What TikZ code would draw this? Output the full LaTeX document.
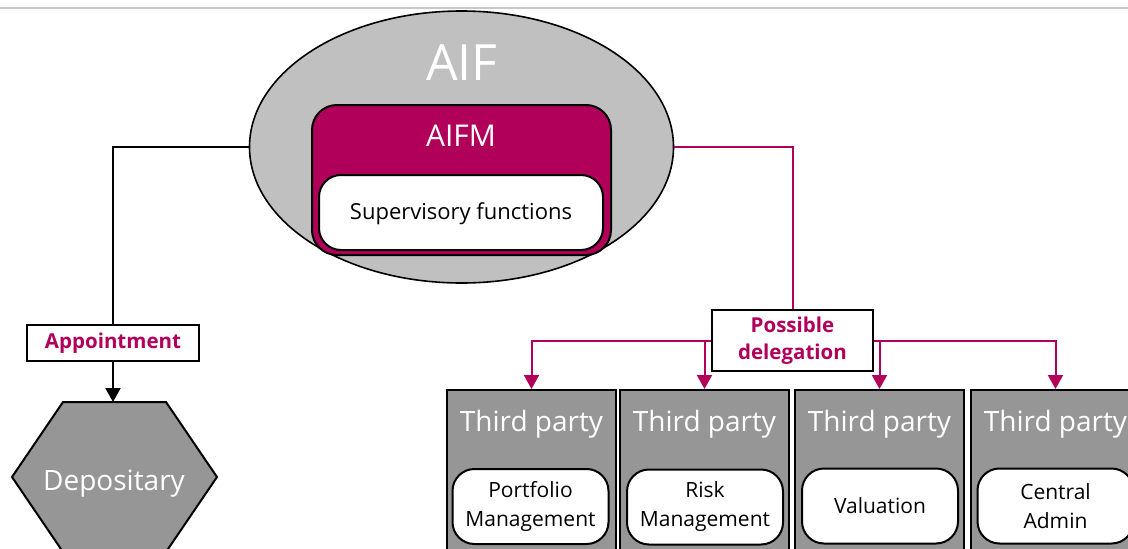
\documentclass[tikz,border=0pt]{standalone}
\usepackage{fontspec}
\setmainfont{Open Sans}
\usetikzlibrary{shapes.geometric,arrows.meta}
\definecolor{mag}{RGB}{176,0,90}
\definecolor{ellgray}{RGB}{192,192,192}
\definecolor{boxgray}{RGB}{150,150,150}
\definecolor{topline}{RGB}{200,200,200}
\begin{document}
\begin{tikzpicture}[x=1pt,y=-1pt,
  conn/.style={line width=2pt, draw=black},
  magconn/.style={line width=2pt, draw=mag},
  tip/.style={-{Triangle[width=15pt,length=14pt]}},
  tpbox/.style={draw=black, line width=2pt, fill=boxgray, minimum width=169pt, minimum height=175pt, inner sep=0pt, anchor=north},
  funcbox/.style={draw=black, line width=2pt, fill=white, rounded corners=22pt, minimum width=156pt, minimum height=75pt, inner sep=0pt, align=center, font=\fontsize{21}{29}\selectfont},
  tplabel/.style={anchor=base, text=white, font=\fontsize{28}{34}\selectfont, inner sep=0pt},
  tagbox/.style={draw=black, line width=2pt, fill=white, inner sep=0pt, text=mag, align=center, font=\bfseries\fontsize{20.5}{27}\selectfont}
]
\useasboundingbox (0,0) rectangle (1128,549);
\clip (0,0) rectangle (1128,549);
\draw[draw=topline, line width=2pt] (0,7.5) -- (1128,7.5);

% AIF ellipse
\node[ellipse, draw=black, line width=1.6pt, fill=ellgray, minimum width=424pt, minimum height=272pt, inner sep=0pt] (aif) at (461.5,147) {};
\node[anchor=base, text=white, font=\fontsize{50}{60}\selectfont, inner sep=0pt] (aiftxt) at (462,80) {AIF};
\node[draw=black, line width=2pt, fill=mag, rounded corners=25pt, minimum width=299pt, minimum height=150pt, inner sep=0pt] (aifm) at (461.5,180) {};
\node[anchor=base, text=white, font=\fontsize{30}{36}\selectfont, inner sep=0pt] (aifmtxt) at (461,146) {AIFM};
\node[funcbox, minimum width=284pt, font=\fontsize{22}{26}\selectfont, text depth=2pt] (sup) at (461,212.5) {Supervisory functions};

% Appointment and depositary
\node[tagbox, minimum width=172pt, minimum height=36pt] (appt) at (113,343) {Appointment};
\path[draw=black, line width=2pt, fill=boxgray] (63,402) -- (166,402) -- (217,477) -- (166,552) -- (63,552) -- (12,477) -- cycle;
\coordinate (deptop) at (114.5,402);
\node[anchor=base, text=white, font=\fontsize{28}{34}\selectfont, inner sep=0pt] (dep) at (114,490) {Depositary};

\draw[conn] (aif.west) -| (appt.north);
\draw[conn, tip] (appt.south) -- (appt.south |- deptop);

% Delegation
\node[tagbox, minimum width=161pt, minimum height=61pt] (deleg) at (792.5,340.5) {Possible\\delegation};

\node[tpbox] (tp1) at (531.5,389) {};
\node[tpbox] (tp2) at (704.5,389) {};
\node[tpbox] (tp3) at (879.5,389) {};
\node[tpbox] (tp4) at (1055.5,389) {};

\node[tplabel] (tp1t) at (531.5,431) {Third party};
\node[tplabel] (tp2t) at (704.5,431) {Third party};
\node[tplabel] (tp3t) at (879.5,431) {Third party};
\node[tplabel] (tp4t) at (1055.5,431) {Third party};

\node[funcbox] (f1) at (530.5,506.5) {Portfolio\\Management};
\node[funcbox] (f2) at (705,507) {Risk\\Management};
\node[funcbox] (f3) at (880,506) {Valuation};
\node[funcbox] (f4) at (1055.5,506) {Central\\Admin};

\draw[magconn] (aif.east) -| (deleg.north);
\draw[magconn, tip] (deleg.west) -| (tp1.north);
\draw[magconn, tip] (tp2.north |- deleg.west) -- (tp2.north);
\draw[magconn, tip] (tp3.north |- deleg.east) -- (tp3.north);
\draw[magconn, tip] (deleg.east) -| (tp4.north);
\end{tikzpicture}
\end{document}
